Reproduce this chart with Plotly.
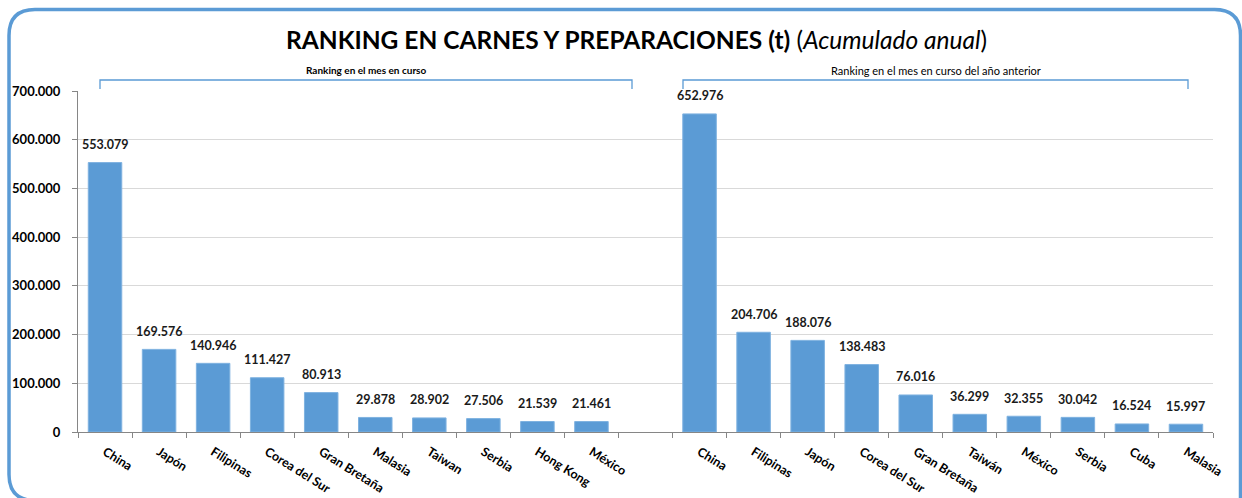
import plotly.graph_objects as go

left_countries = ["China", "Japón", "Filipinas", "Corea del Sur", "Gran Bretaña",
                  "Malasia", "Taiwan", "Serbia", "Hong Kong", "México"]
left_values = [553079, 169576, 140946, 111427, 80913, 29878, 28902, 27506, 21539, 21461]

right_countries = ["China", "Filipinas", "Japón", "Corea del Sur", "Gran Bretaña",
                   "Taiwán", "México", "Serbia", "Cuba", "Malasia"]
right_values = [652976, 204706, 188076, 138483, 76016, 36299, 32355, 30042, 16524, 15997]

y_ticks = [0, 100000, 200000, 300000, 400000, 500000, 600000, 700000]

title_main = "RANKING EN CARNES Y PREPARACIONES (t)"
title_sub = "Acumulado anual"
group_left = "Ranking en el mes en curso"
group_right = "Ranking en el mes en curso del año anterior"

W, H = 1242, 498
L, R, T, B = 78, 29, 91, 66
pw, ph = W - L - R, H - T - B

def px_x(p):
    return (p - L) / pw

def px_y(p):
    return (H - B - p) / ph

def fmt(v):
    return f"{v:,}".replace(",", ".")

n_left = len(left_countries)
x_left = list(range(n_left))
x_right = [n_left + 1 + i for i in range(len(right_countries))]
n_total = n_left + 1 + len(right_countries)

bar_color = "#5b9bd5"
FONT = "Lato"

fig = go.Figure()
for xs, vals in ((x_left, left_values), (x_right, right_values)):
    fig.add_trace(go.Bar(
        x=xs, y=vals, width=0.62,
        marker=dict(color=bar_color, line=dict(color="#7fb2e0", width=1)),
        showlegend=False, hoverinfo="skip",
    ))
    for xi, v in zip(xs, vals):
        fig.add_annotation(x=xi, y=v, xref="x", yref="y", text=f"<b>{fmt(v)}</b>",
                           showarrow=False, xanchor="center", yanchor="middle",
                           yshift=18,
                           font=dict(family=FONT, size=12.5, color="#1a1a1a"))

fig.update_layout(
    width=W, height=H,
    margin=dict(l=L, r=R, t=T, b=B, pad=0, autoexpand=False),
    paper_bgcolor="white", plot_bgcolor="white",
    separators=",.",
    bargap=0.38,
    font=dict(family=FONT, color="#000000"),
)

fig.update_xaxes(
    range=[-0.5, n_total - 0.5],
    tickmode="array",
    tickvals=x_left + x_right,
    ticktext=left_countries + right_countries,
    tickangle=32,
    ticks="",
    ticklabelstandoff=7,
    tickfont=dict(family=FONT, size=12.5, color="#000000", weight="bold"),
    showline=True, linecolor="#868686", linewidth=1,
    showgrid=False, zeroline=False,
    minor=dict(tickmode="array", tickvals=[i - 0.5 for i in range(n_total + 1)],
               ticks="outside", ticklen=5, tickcolor="#868686", showgrid=False),
)
fig.update_yaxes(
    range=[0, 700000],
    tickmode="array", tickvals=y_ticks,
    tickformat=",d",
    ticks="outside", ticklen=5, tickcolor="#868686",
    ticklabelstandoff=9,
    tickfont=dict(family=FONT, size=13, color="#000000", weight="bold"),
    showline=True, linecolor="#868686", linewidth=1,
    showgrid=True, gridcolor="#d9d9d9", gridwidth=1,
    zeroline=False,
)

# title
fig.add_annotation(
    xref="paper", yref="paper", x=px_x(636), y=px_y(40),
    text=f"<b>{title_main}</b> (<i>{title_sub}</i>)",
    showarrow=False, xanchor="center", yanchor="middle",
    font=dict(family=FONT, size=24.5, color="#000000"),
)

# group brackets
brackets = [(100, 632, f"<b>{group_left}</b>", 10),
            (683, 1188, group_right, 11)]
for x0, x1, label, fs in brackets:
    fig.add_shape(type="path", xref="paper", yref="paper",
                  path=f"M {px_x(x0)} {px_y(89)} L {px_x(x0)} {px_y(80)} L {px_x(x1)} {px_y(80)} L {px_x(x1)} {px_y(89)}",
                  line=dict(color=bar_color, width=1.3))
    fig.add_annotation(xref="paper", yref="paper", x=px_x((x0 + x1) / 2), y=px_y(70),
                       text=label, showarrow=False,
                       xanchor="center", yanchor="middle",
                       font=dict(family=FONT, size=fs, color="#000000"))

# rounded frame
x0, x1, y0, y1, r = 9, 1240.5, 9.5, 500.5, 26
path = (f"M {px_x(x0 + r)} {px_y(y1)} "
        f"Q {px_x(x0)} {px_y(y1)} {px_x(x0)} {px_y(y1 - r)} "
        f"L {px_x(x0)} {px_y(y0 + r)} "
        f"Q {px_x(x0)} {px_y(y0)} {px_x(x0 + r)} {px_y(y0)} "
        f"L {px_x(x1 - r)} {px_y(y0)} "
        f"Q {px_x(x1)} {px_y(y0)} {px_x(x1)} {px_y(y0 + r)} "
        f"L {px_x(x1)} {px_y(y1)}")
fig.add_shape(type="path", xref="paper", yref="paper", path=path,
              line=dict(color=bar_color, width=3.5), layer="above")

fig.write_html("out.html", config={"displayModeBar": False},
               post_script="document.body.style.margin='0';document.body.style.overflow='hidden';")
